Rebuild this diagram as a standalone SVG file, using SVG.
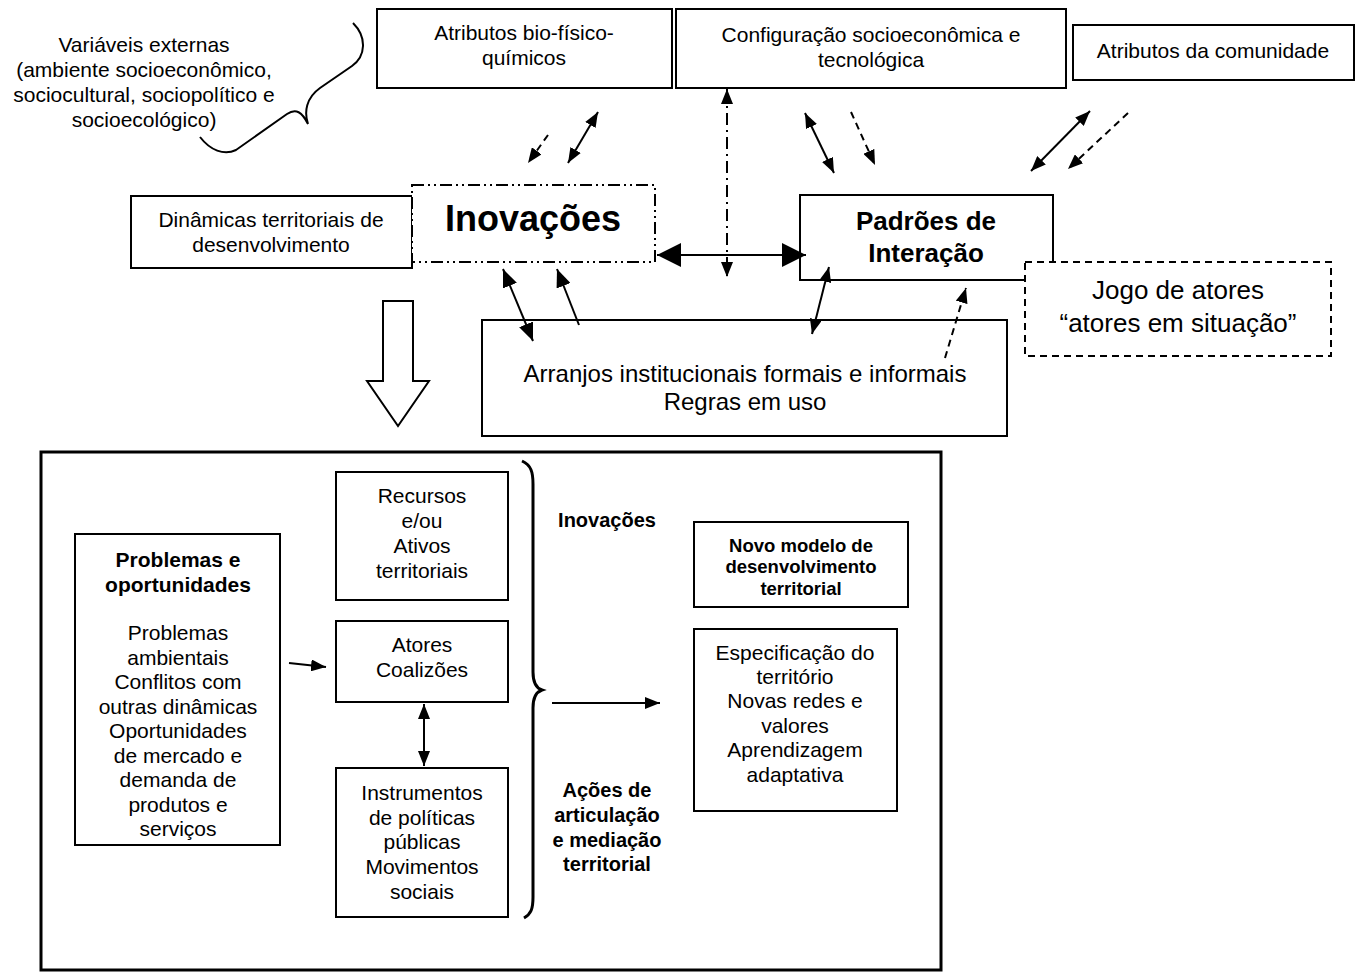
<svg xmlns="http://www.w3.org/2000/svg" width="1363" height="972" viewBox="0 0 1363 972">
  <defs>
    <style>
      text { font-family: "Liberation Sans", Arial, sans-serif; fill: #000; text-anchor: middle; }
      .t21 { font-size: 21px; }
      .b21 { font-size: 21px; font-weight: bold; }
      .b20 { font-size: 20px; font-weight: bold; }
      .box { fill: #fff; stroke: #000; stroke-width: 2; }
      .ln { fill: none; stroke: #000; stroke-width: 2; }
      .dash { stroke-dasharray: 7 5; }
    </style>
    <marker id="ah" markerUnits="userSpaceOnUse" markerWidth="15" markerHeight="12" refX="15" refY="6" orient="auto-start-reverse">
      <path d="M0,0 L15,6 L0,12 z" fill="#000"/>
    </marker>
    <marker id="ahMid" markerUnits="userSpaceOnUse" markerWidth="18" markerHeight="15" refX="18" refY="7.5" orient="auto-start-reverse">
      <path d="M0,0 L18,7.5 L0,15 z" fill="#000"/>
    </marker>
    <marker id="ahBig" markerUnits="userSpaceOnUse" markerWidth="24" markerHeight="24" refX="24" refY="12" orient="auto-start-reverse">
      <path d="M0,0 L24,12 L0,24 z" fill="#000"/>
    </marker>
  </defs>

  <rect width="1363" height="972" fill="#fff"/>

  <!-- external variables label with its brace -->
  <g id="variaveis">
    <text class="t21" x="144" y="52">Variáveis externas</text>
    <text class="t21" x="144" y="77">(ambiente socioeconômico,</text>
    <text class="t21" x="144" y="102">sociocultural, sociopolítico e</text>
    <text class="t21" x="144" y="127">socioecológico)</text>
    <path class="ln" d="M353,23 C367,37 366,56 352,66 L320,88 C306,98 304,112 308,124 C302,112 296,108 287,114 L236,150 C224,156 210,150 200,137"/>
  </g>

  <g id="atributos-bio">
    <rect class="box" x="377" y="9" width="295" height="79"/>
    <text class="t21" x="524" y="40">Atributos bio-físico-</text>
    <text class="t21" x="524" y="65">químicos</text>
  </g>

  <g id="configuracao">
    <rect class="box" x="676" y="9" width="390" height="79"/>
    <text class="t21" x="871" y="42">Configuração socioeconômica e</text>
    <text class="t21" x="871" y="67">tecnológica</text>
  </g>

  <g id="atributos-comunidade">
    <rect class="box" x="1073" y="25" width="281" height="55"/>
    <text class="t21" x="1213" y="58">Atributos da comunidade</text>
  </g>

  <g id="dinamicas">
    <rect class="box" x="131" y="196" width="281" height="72"/>
    <text class="t21" x="271" y="227">Dinâmicas territoriais de</text>
    <text class="t21" x="271" y="252">desenvolvimento</text>
  </g>

  <g id="inovacoes">
    <rect x="412" y="185" width="243" height="77" fill="#fff" stroke="#000" stroke-width="2" stroke-dasharray="12 4 2 4 2 4"/>
    <text x="533" y="231" style="font-size:36px;font-weight:bold">Inovações</text>
  </g>

  <g id="padroes">
    <rect class="box" x="800" y="195" width="253" height="85"/>
    <text x="926" y="230" style="font-size:26px;font-weight:bold">Padrões de</text>
    <text x="926" y="262" style="font-size:26px;font-weight:bold">Interação</text>
  </g>

  <g id="jogo-atores">
    <rect class="box dash" x="1025" y="262" width="306" height="94"/>
    <text x="1178" y="299" style="font-size:26px">Jogo de atores</text>
    <text x="1178" y="332" style="font-size:26px">“atores em situação”</text>
  </g>

  <g id="arranjos">
    <rect class="box" x="482" y="320" width="525" height="116"/>
    <text x="745" y="382" style="font-size:24px">Arranjos institucionais formais e informais</text>
    <text x="745" y="410" style="font-size:24px">Regras em uso</text>
  </g>

  <!-- hollow arrow leading into the territorial frame -->
  <g id="seta-vazada">
    <polygon points="383,301 413,301 413,381 429,381 398,426 367,381 383,381" fill="#fff" stroke="#000" stroke-width="2"/>
  </g>

  <g id="quadro-territorial">
    <rect x="41" y="452" width="900" height="518" fill="none" stroke="#000" stroke-width="3"/>
  </g>

  <g id="problemas">
    <rect class="box" x="75" y="534" width="205" height="311"/>
    <text class="b21" x="178" y="567">Problemas e</text>
    <text class="b21" x="178" y="592">oportunidades</text>
    <text class="t21" x="178" y="640">Problemas</text>
    <text class="t21" x="178" y="665">ambientais</text>
    <text class="t21" x="178" y="689">Conflitos com</text>
    <text class="t21" x="178" y="714">outras dinâmicas</text>
    <text class="t21" x="178" y="738">Oportunidades</text>
    <text class="t21" x="178" y="763">de mercado e</text>
    <text class="t21" x="178" y="787">demanda de</text>
    <text class="t21" x="178" y="812">produtos e</text>
    <text class="t21" x="178" y="836">serviços</text>
  </g>

  <g id="recursos">
    <rect class="box" x="336" y="472" width="172" height="128"/>
    <text class="t21" x="422" y="503">Recursos</text>
    <text class="t21" x="422" y="528">e/ou</text>
    <text class="t21" x="422" y="553">Ativos</text>
    <text class="t21" x="422" y="578">territoriais</text>
  </g>

  <g id="atores">
    <rect class="box" x="336" y="621" width="172" height="81"/>
    <text class="t21" x="422" y="652">Atores</text>
    <text class="t21" x="422" y="677">Coalizões</text>
  </g>

  <g id="instrumentos">
    <rect class="box" x="336" y="768" width="172" height="149"/>
    <text class="t21" x="422" y="800">Instrumentos</text>
    <text class="t21" x="422" y="825">de políticas</text>
    <text class="t21" x="422" y="849">públicas</text>
    <text class="t21" x="422" y="874">Movimentos</text>
    <text class="t21" x="422" y="899">sociais</text>
  </g>

  <g id="chave-inovacoes">
    <path d="M522,461 C531,465 533,472 533,484 L533,672 C533,683 536,688 542,690 C536,692 533,697 533,708 L533,897 C533,909 531,914 524,918" fill="none" stroke="#000" stroke-width="3"/>
    <text class="b20" x="607" y="527">Inovações</text>
    <text class="b20" x="607" y="797">Ações de</text>
    <text class="b20" x="607" y="822">articulação</text>
    <text class="b20" x="607" y="847">e mediação</text>
    <text class="b20" x="607" y="871">territorial</text>
  </g>

  <g id="novo-modelo">
    <rect class="box" x="694" y="522" width="214" height="85"/>
    <text x="801" y="552" style="font-size:18.5px;font-weight:bold">Novo modelo de</text>
    <text x="801" y="573" style="font-size:18.5px;font-weight:bold">desenvolvimento</text>
    <text x="801" y="595" style="font-size:18.5px;font-weight:bold">territorial</text>
  </g>

  <g id="especificacao">
    <rect class="box" x="694" y="629" width="203" height="182"/>
    <text class="t21" x="795" y="660">Especificação do</text>
    <text class="t21" x="795" y="684">território</text>
    <text class="t21" x="795" y="708">Novas redes e</text>
    <text class="t21" x="795" y="733">valores</text>
    <text class="t21" x="795" y="757">Aprendizagem</text>
    <text class="t21" x="795" y="782">adaptativa</text>
  </g>

  <g id="conectores">
    <!-- atributos bio-físico-químicos -->
    <line class="ln dash" x1="548" y1="135" x2="528" y2="163" stroke-width="1.5" marker-end="url(#ah)"/>
    <line class="ln" x1="598" y1="112" x2="568" y2="163" stroke-width="1.5" marker-start="url(#ah)" marker-end="url(#ah)"/>
    <!-- configuração socioeconômica -->
    <line class="ln" x1="727" y1="89" x2="727" y2="277" stroke-width="1.5" stroke-dasharray="12 5 2 5" marker-start="url(#ah)" marker-end="url(#ah)"/>
    <line class="ln" x1="805" y1="113" x2="834" y2="173" stroke-width="1.5" marker-start="url(#ah)" marker-end="url(#ah)"/>
    <line class="ln dash" x1="851" y1="112" x2="875" y2="165" stroke-width="1.5" marker-end="url(#ah)"/>
    <!-- atributos da comunidade -->
    <line class="ln" x1="1090" y1="111" x2="1031" y2="171" stroke-width="1.5" marker-start="url(#ah)" marker-end="url(#ah)"/>
    <line class="ln dash" x1="1128" y1="113" x2="1068" y2="169" stroke-width="1.5" marker-end="url(#ah)"/>
    <!-- inovações <-> padrões de interação -->
    <line class="ln" x1="657" y1="255" x2="806" y2="255" stroke-width="6" marker-start="url(#ahBig)" marker-end="url(#ahBig)"/>
    <!-- inovações <-> arranjos -->
    <line class="ln" x1="503" y1="269" x2="533" y2="341" stroke-width="4" marker-start="url(#ahMid)" marker-end="url(#ahMid)"/>
    <line class="ln" x1="579" y1="325" x2="557" y2="269" stroke-width="3" marker-end="url(#ahMid)"/>
    <!-- padrões <-> arranjos, jogo de atores -->
    <line class="ln" x1="829" y1="267" x2="812" y2="334" stroke-width="1.5" marker-start="url(#ah)" marker-end="url(#ah)"/>
    <line class="ln dash" x1="945" y1="358" x2="966" y2="288" stroke-width="1.5" marker-end="url(#ah)"/>
    <!-- lower frame -->
    <line class="ln" x1="289" y1="663" x2="326" y2="667" stroke-width="3" marker-end="url(#ah)"/>
    <line class="ln" x1="424" y1="704" x2="424" y2="766" stroke-width="2.5" marker-start="url(#ah)" marker-end="url(#ah)"/>
    <line class="ln" x1="552" y1="703" x2="660" y2="703" stroke-width="3" marker-end="url(#ah)"/>
  </g>
</svg>
